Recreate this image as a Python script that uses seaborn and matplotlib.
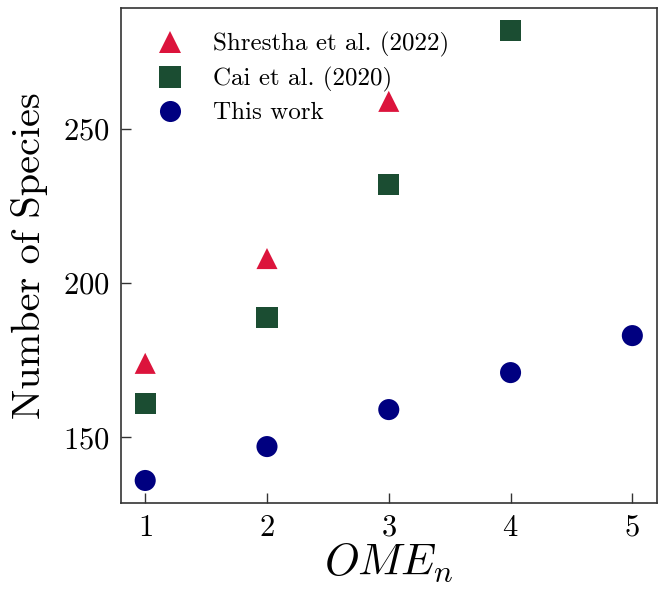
import matplotlib
matplotlib.use("Agg")
import matplotlib.pyplot as plt
import seaborn as sns
import pandas as pd

shrestha_x = [1, 2, 3]
shrestha_y = [174, 208, 259]
cai_x = [1, 2, 3, 4]
cai_y = [161, 189, 232, 282]
this_x = [1, 2, 3, 4, 5]
this_y = [136, 147, 159, 171, 183]
labels = ["Shrestha et al. (2022)", "Cai et al. (2020)", "This work"]

sns.set_style("ticks")
plt.rcParams["font.family"] = ["cmr10", "DejaVu Serif"]
plt.rcParams["mathtext.fontset"] = "cm"
plt.rcParams["axes.formatter.use_mathtext"] = True
plt.rcParams["text.color"] = "black"
plt.rcParams["axes.labelcolor"] = "black"
plt.rcParams["xtick.color"] = "black"
plt.rcParams["ytick.color"] = "black"

df = pd.concat([
    pd.DataFrame({"x": shrestha_x, "y": shrestha_y, "src": labels[0]}),
    pd.DataFrame({"x": cai_x, "y": cai_y, "src": labels[1]}),
    pd.DataFrame({"x": this_x, "y": this_y, "src": labels[2]}),
])

fig = plt.figure(figsize=(6.64, 5.90), dpi=100)
ax = fig.add_axes([0.182, 0.1475, 0.807, 0.839])
sns.scatterplot(data=df, x="x", y="y", hue="src", style="src",
                hue_order=labels, style_order=labels,
                palette=["#DC143C", "#1B4D32", "#000080"],
                markers=["^", "s", "o"], s=230, linewidth=0, ax=ax)

ax.set_xticks([1, 2, 3, 4, 5])
ax.set_yticks([150, 200, 250])
ax.tick_params(direction="in", length=7, width=1, labelsize=22, pad=8,
               color="#333333", labelcolor="black")
ax.set_xlabel("$OME_n$", fontsize=32, labelpad=0)
ax.set_ylabel("Number of Species", fontsize=29, labelpad=11)
for sp in ax.spines.values():
    sp.set_color("#333333")
    sp.set_linewidth(1.2)
leg = ax.legend(loc="upper left", frameon=False, fontsize=18, markerscale=1.0,
                handletextpad=0.75, labelspacing=0.4, borderaxespad=0.55,
                borderpad=0.4)
fig.savefig("out.png", dpi=100)
